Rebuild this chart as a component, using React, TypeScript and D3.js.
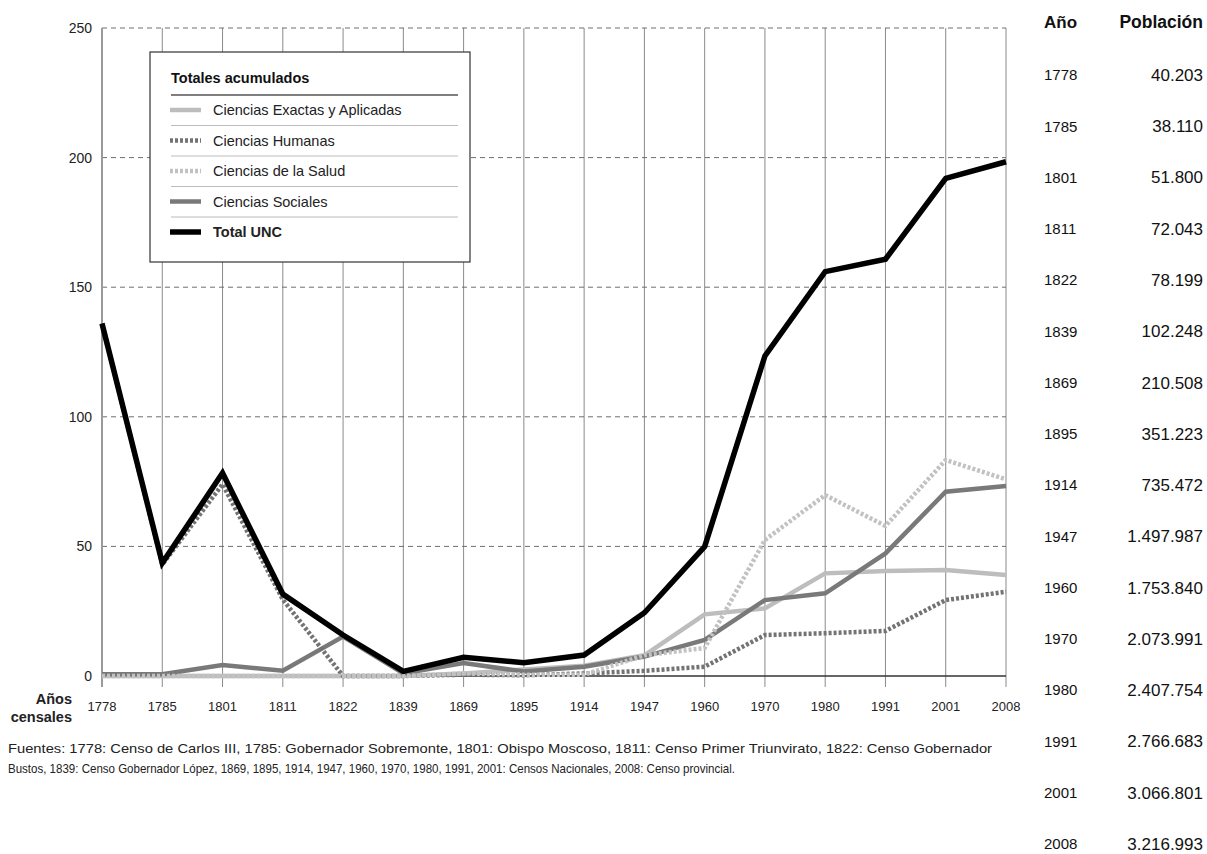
import React, { useEffect, useRef } from 'react';
import * as d3 from 'd3';

const years = ['1778', '1785', '1801', '1811', '1822', '1839', '1869', '1895', '1914', '1947', '1960', '1970', '1980', '1991', '2001', '2008'];

const exactas = [0, 0, 0, 0, 0, 0, 1, 2.5, 4, 8, 23.8, 26.1, 39.6, 40.5, 40.9, 39];
const humanas = [136, 43, 74, 29.5, 0, 0, 0.5, 0.3, 1, 2, 3.6, 15.8, 16.5, 17.4, 29.3, 32.5];
const salud = [0, 0, 0, 0, 0, 0, 1, 0.5, 0.5, 8, 10.8, 52.5, 69.8, 57.9, 83.3, 75.9];
const sociales = [0.7, 0.7, 4.2, 2, 15.2, 1, 5, 1.7, 3.6, 7.5, 13.9, 29.3, 31.9, 47.3, 71.1, 73.3];
const totalUNC = [136, 43.6, 78.3, 31.6, 15.8, 1.8, 7.2, 5.1, 8.1, 24.4, 49.9, 123.5, 156, 160.8, 192, 198.4];

const yTicks = [0, 50, 100, 150, 200, 250];

const tableYears = ['1778', '1785', '1801', '1811', '1822', '1839', '1869', '1895', '1914', '1947', '1960', '1970', '1980', '1991', '2001', '2008'];
const tablePopulation = ['40.203', '38.110', '51.800', '72.043', '78.199', '102.248', '210.508', '351.223', '735.472', '1.497.987', '1.753.840', '2.073.991', '2.407.754', '2.766.683', '3.066.801', '3.216.993'];

const footnote = [
  'Fuentes: 1778: Censo de Carlos III, 1785: Gobernador Sobremonte, 1801: Obispo Moscoso, 1811: Censo Primer Triunvirato, 1822: Censo Gobernador',
  'Bustos, 1839: Censo Gobernador López, 1869, 1895, 1914, 1947, 1960, 1970, 1980, 1991, 2001: Censos Nacionales, 2008: Censo provincial.',
];
const footnoteWidths = [984, 727];

interface Serie {
  name: string;
  values: number[];
  color: string;
  width: number;
  dash?: string;
  bold?: boolean;
}

// drawing order (bottom to top)
const series: Serie[] = [
  { name: 'Ciencias Exactas y Aplicadas', values: exactas, color: '#bdbdbd', width: 4.5 },
  { name: 'Ciencias Sociales', values: sociales, color: '#797979', width: 4.5 },
  { name: 'Ciencias Humanas', values: humanas, color: '#737373', width: 4.5, dash: '3,2' },
  { name: 'Ciencias de la Salud', values: salud, color: '#c2c2c2', width: 4.5, dash: '3,2' },
  { name: 'Total UNC', values: totalUNC, color: '#000', width: 5.5, bold: true },
];

const legendOrder = ['Ciencias Exactas y Aplicadas', 'Ciencias Humanas', 'Ciencias de la Salud', 'Ciencias Sociales', 'Total UNC'];

const FONT = '"Liberation Sans", Arial, Helvetica, sans-serif';

export default function App() {
  const svgRef = useRef<SVGSVGElement>(null);

  useEffect(() => {
    document.body.style.margin = '0';
    if (!svgRef.current) return;
    const svg = d3.select(svgRef.current);
    svg.selectAll('*').remove();

    const left = 102, right = 1006, top = 28, bottom = 676;
    const x = d3.scalePoint<string>().domain(years).range([left, right]);
    const y = d3.scaleLinear().domain([0, 250]).range([bottom, top]);

    const g = svg.append('g');

    // vertical grid
    g.selectAll('line.vgrid')
      .data(years.slice(1))
      .enter()
      .append('line')
      .attr('x1', d => x(d)!)
      .attr('x2', d => x(d)!)
      .attr('y1', top)
      .attr('y2', bottom + 11)
      .attr('stroke', '#8a8a8a')
      .attr('stroke-width', 1);

    // horizontal dashed grid
    g.selectAll('line.hgrid')
      .data(yTicks.filter(t => t > 0))
      .enter()
      .append('line')
      .attr('x1', left)
      .attr('x2', right)
      .attr('y1', d => y(d))
      .attr('y2', d => y(d))
      .attr('stroke', '#6e6e6e')
      .attr('stroke-width', 1)
      .attr('stroke-dasharray', '5,4');

    // left axis
    g.append('line')
      .attr('x1', left).attr('x2', left)
      .attr('y1', top).attr('y2', bottom + 11)
      .attr('stroke', '#9a9a9a').attr('stroke-width', 2);

    // baseline
    g.append('line')
      .attr('x1', left).attr('x2', right)
      .attr('y1', y(0)).attr('y2', y(0))
      .attr('stroke', '#333').attr('stroke-width', 1.5);

    // y tick labels
    g.selectAll('text.ytick')
      .data(yTicks)
      .enter()
      .append('text')
      .attr('x', 92)
      .attr('y', d => y(d))
      .attr('dy', '0.35em')
      .attr('text-anchor', 'end')
      .attr('font-family', FONT)
      .attr('font-size', 14)
      .attr('fill', '#222')
      .text(d => d);

    // x tick labels
    g.selectAll('text.xtick')
      .data(years)
      .enter()
      .append('text')
      .attr('x', d => x(d)!)
      .attr('y', 711)
      .attr('text-anchor', 'middle')
      .attr('font-family', FONT)
      .attr('font-size', 13)
      .attr('fill', '#222')
      .text(d => d);

    const axisTitle = g.append('text')
      .attr('text-anchor', 'end')
      .attr('font-family', FONT)
      .attr('font-size', 14.5)
      .attr('font-weight', 'bold')
      .attr('fill', '#222');
    axisTitle.append('tspan').attr('x', 72).attr('y', 704).text('Años');
    axisTitle.append('tspan').attr('x', 72).attr('y', 722).text('censales');

    // lines
    const line = d3.line<number>()
      .x((_, i) => x(years[i])!)
      .y(d => y(d));

    series.forEach(s => {
      g.append('path')
        .attr('d', line(s.values)!)
        .attr('fill', 'none')
        .attr('stroke', s.color)
        .attr('stroke-width', s.width)
        .attr('stroke-dasharray', s.dash || null)
        .attr('stroke-linejoin', 'miter');
    });

    // legend
    const lg = svg.append('g').attr('transform', 'translate(150,52)');
    lg.append('rect')
      .attr('width', 320).attr('height', 210)
      .attr('fill', '#fff').attr('stroke', '#333').attr('stroke-width', 1.2);
    lg.append('text')
      .attr('x', 21).attr('y', 31)
      .attr('font-family', FONT).attr('font-size', 14.5).attr('font-weight', 'bold')
      .attr('fill', '#111')
      .text('Totales acumulados');
    lg.append('line')
      .attr('x1', 21).attr('x2', 308).attr('y1', 43).attr('y2', 43)
      .attr('stroke', '#555').attr('stroke-width', 1.5);
    legendOrder.forEach((name, i) => {
      const s = series.find(d => d.name === name)!;
      const cy = 58 + i * 30.5;
      lg.append('line')
        .attr('x1', 20).attr('x2', 51).attr('y1', cy).attr('y2', cy)
        .attr('stroke', s.color).attr('stroke-width', s.width)
        .attr('stroke-dasharray', s.dash || null);
      lg.append('text')
        .attr('x', 63).attr('y', cy).attr('dy', '0.35em')
        .attr('font-family', FONT).attr('font-size', 14.5)
        .attr('font-weight', s.bold ? 'bold' : 'normal')
        .attr('fill', '#222')
        .text(name);
      if (i < legendOrder.length - 1) {
        lg.append('line')
          .attr('x1', 21).attr('x2', 308).attr('y1', cy + 15.5).attr('y2', cy + 15.5)
          .attr('stroke', '#aaa').attr('stroke-width', 0.8);
      }
    });

    // footnote, each line fitted to its width in the reference
    footnote.forEach((t, i) => {
      svg.append('text')
        .attr('x', 8).attr('y', 753 + i * 20)
        .attr('font-family', FONT).attr('font-size', 13)
        .attr('fill', '#222')
        .attr('textLength', footnoteWidths[i])
        .attr('lengthAdjust', 'spacingAndGlyphs')
        .text(t);
    });

    // population table
    const tb = svg.append('g').attr('font-family', FONT).attr('fill', '#111');
    tb.append('text').attr('x', 1044).attr('y', 28).attr('font-size', 17).attr('font-weight', 'bold').text('Año');
    tb.append('text').attr('x', 1203).attr('y', 28).attr('text-anchor', 'end').attr('font-size', 17.5).attr('font-weight', 'bold').text('Población');
    const rowY = d3.scalePoint<string>().domain(tableYears).range([75, 844]);
    tableYears.forEach((yr, i) => {
      tb.append('text').attr('x', 1044).attr('y', rowY(yr)!).attr('dy', '0.35em').attr('font-size', 15).text(yr);
      tb.append('text').attr('x', 1203).attr('y', rowY(yr)!).attr('dy', '0.35em').attr('text-anchor', 'end').attr('font-size', 17).text(tablePopulation[i]);
    });
  }, []);

  return <svg ref={svgRef} width={1207} height={854} style={{ display: 'block', background: '#fff' }} />;
}
